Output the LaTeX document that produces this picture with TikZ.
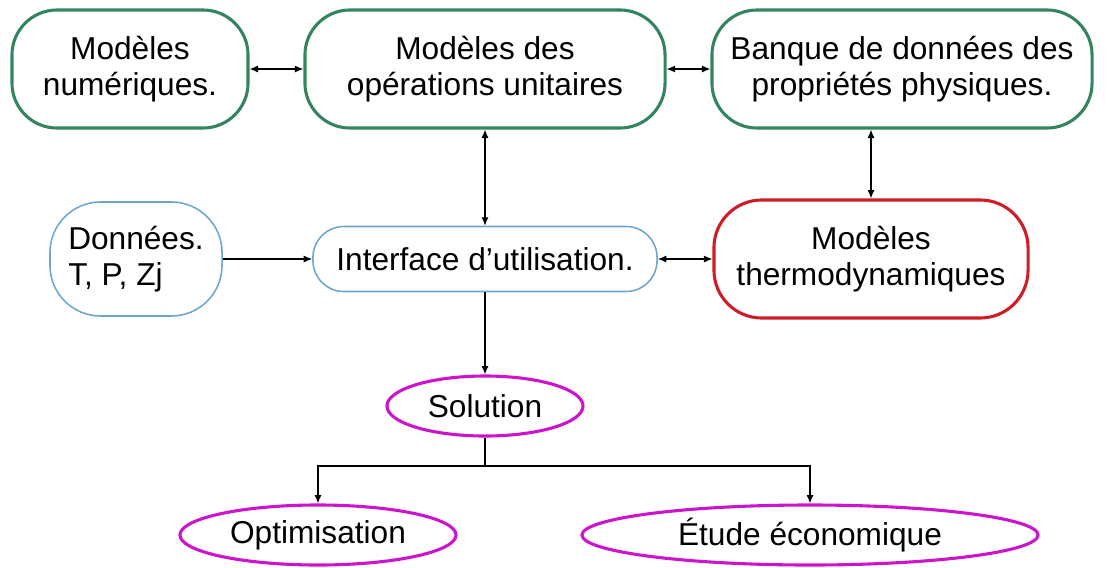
\documentclass[tikz,border=0pt]{standalone}
\usepackage{fontspec}
\setmainfont{Liberation Sans}
\usepackage{tikz}
\usetikzlibrary{positioning,arrows.meta,shapes.geometric,calc}

\definecolor{boxgreen}{RGB}{52,132,96}
\definecolor{boxblue}{RGB}{110,165,205}
\definecolor{boxred}{RGB}{205,30,40}
\definecolor{ellmag}{RGB}{205,20,205}

\begin{document}
\begin{tikzpicture}[
    x=0.025cm, y=-0.025cm,
    font=\fontsize{22.5}{26}\selectfont,
    greenbox/.style={draw=boxgreen, line width=2.2pt, rounded corners=32pt, align=center, minimum width=5.9cm, minimum height=2.95cm, inner sep=2pt},
    bluebox/.style={draw=boxblue, line width=1.1pt, rounded corners=22pt, align=center, inner sep=2pt},
    redbox/.style={draw=boxred, line width=2.2pt, rounded corners=34pt, align=center, minimum width=7.85cm, minimum height=2.95cm, inner sep=2pt},
    ellnode/.style={draw=ellmag, line width=2.2pt, ellipse, inner sep=0pt, minimum height=1.5cm},
    link/.style={line width=0.9pt, -{Latex[length=6pt,width=5pt]}},
    dlink/.style={line width=0.9pt, {Latex[length=6pt,width=5pt]}-{Latex[length=6pt,width=5pt]}}
]
\useasboundingbox (0,0) rectangle (1111,567);

\node[greenbox] (numeriques) at (130,69) {Modèles\\numériques.};
\node[greenbox, minimum width=9cm] (operations) at (485,69) {Modèles des\\opérations unitaires};
\node[greenbox, minimum width=9.5cm] (banque) at (902,69) {Banque de données des\\propriétés physiques.};

\node[bluebox, align=left, minimum width=4.3cm, minimum height=2.85cm, rounded corners=36pt] (donnees) at (136,259) {Données.\\T, P, Zj};
\node[bluebox, minimum width=8.6cm, minimum height=1.625cm] (interface) at (485,259) {Interface d’utilisation.};
\node[redbox] (thermo) at (871,259) {Modèles\\thermodynamiques};

\node[ellnode, minimum width=4.9cm] (solution) at (485,406) {Solution};
\node[ellnode, minimum width=6.9cm] (optim) at (318,535) {Optimisation};
\node[ellnode, minimum width=11.4cm] (eco) at (810,535) {Étude économique};

\coordinate (split) at (485,466);

\draw[dlink] (numeriques) -- (operations);
\draw[dlink] (operations) -- (banque);
\draw[dlink] (operations.south) -- (interface.north);
\draw[dlink] (thermo.north |- banque.south) -- (thermo.north);
\draw[link] (donnees) -- (interface);
\draw[dlink] (interface) -- (thermo);
\draw[link] (interface.south) -- (solution.north);
\draw[line width=0.9pt] (solution.south) -- (split);
\draw[link] (split) -| (optim.north);
\draw[link] (split) -| (eco.north);

\end{tikzpicture}
\end{document}
